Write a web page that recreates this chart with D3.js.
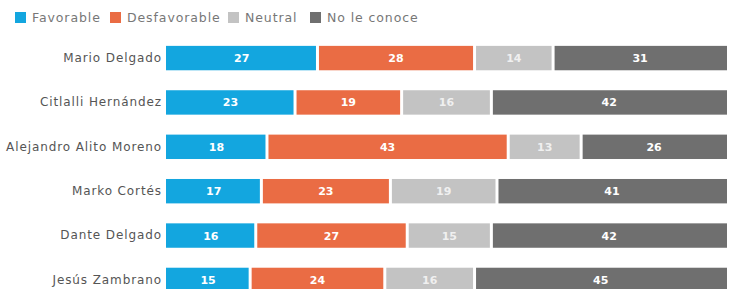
<!DOCTYPE html>
<html><head><meta charset="utf-8">
<script src="https://cdn.jsdelivr.net/npm/d3@7/dist/d3.min.js"></script>
<style>body{margin:0;background:#fff;} svg{display:block;font-family:"DejaVu Sans",sans-serif;}</style>
</head><body>
<script>
const categories = ["Mario Delgado","Citlalli Hernández","Alejandro Alito Moreno","Marko Cortés","Dante Delgado","Jesús Zambrano"];
const seriesNames = ["Favorable","Desfavorable","Neutral","No le conoce"];
const favorable = [27,23,18,17,16,15];
const desfavorable = [28,19,43,23,27,24];
const neutral = [14,16,13,19,15,16];
const noLeConoce = [31,42,26,41,42,45];
const colors = ["#13a6df","#ea6c44","#c3c3c3","#6f6f6f"];

const W = 731, H = 289;
const svg = d3.select("body").append("svg").attr("width",W).attr("height",H);

const rows = categories.map((c,i)=>({cat:c, Favorable:favorable[i], Desfavorable:desfavorable[i], Neutral:neutral[i], "No le conoce":noLeConoce[i]}));
const stack = d3.stack().keys(seriesNames)(rows);

const x = d3.scaleLinear().domain([0,100]).range([166,727]);
const y = d3.scaleBand().domain(categories).range([37,301]).paddingInner(0.45).paddingOuter(0.2);

const color = d3.scaleOrdinal().domain(seriesNames).range(colors);

const gap = 1.5;
stack.forEach(layer=>{
  const g = svg.append("g");
  g.selectAll("rect").data(layer).join("rect")
    .attr("x", d=> x(d[0]) + (d[0]>0?gap:0))
    .attr("y", d=> y(d.data.cat))
    .attr("width", d=> x(d[1]) - x(d[0]) - (d[0]>0?gap:0) - (d[1]<100?gap:0))
    .attr("height", y.bandwidth())
    .attr("fill", color(layer.key));
  g.selectAll("text").data(layer).join("text")
    .attr("x", d=> (x(d[0])+x(d[1]))/2)
    .attr("y", d=> y(d.data.cat)+y.bandwidth()/2)
    .attr("dy","0.36em")
    .attr("text-anchor","middle")
    .attr("fill","#fff")
    .attr("font-size",11)
    .attr("font-weight","bold")
    .attr("opacity", layer.key==="Neutral"?0.75:1)
    .text(d=> d[1]-d[0]);
});

const yAxis = svg.append("g").attr("transform","translate(162,0)")
  .call(d3.axisLeft(y).tickSize(0).tickPadding(0));
yAxis.select(".domain").remove();
yAxis.selectAll("text").attr("font-family","'DejaVu Sans',sans-serif").attr("font-size",12)
  .attr("letter-spacing",0.9).attr("fill","#555");

const legendX = [15,110,228,310];
const leg = svg.append("g").selectAll("g").data(seriesNames).join("g")
  .attr("transform",(d,i)=>`translate(${legendX[i]},12)`);
leg.append("rect").attr("width",11).attr("height",11).attr("fill",d=>color(d));
leg.append("text").attr("x",17).attr("y",6).attr("dy","0.35em")
  .attr("font-size",12.5).attr("letter-spacing",0.9).attr("fill","#777").text(d=>d);
</script>
</body></html>
